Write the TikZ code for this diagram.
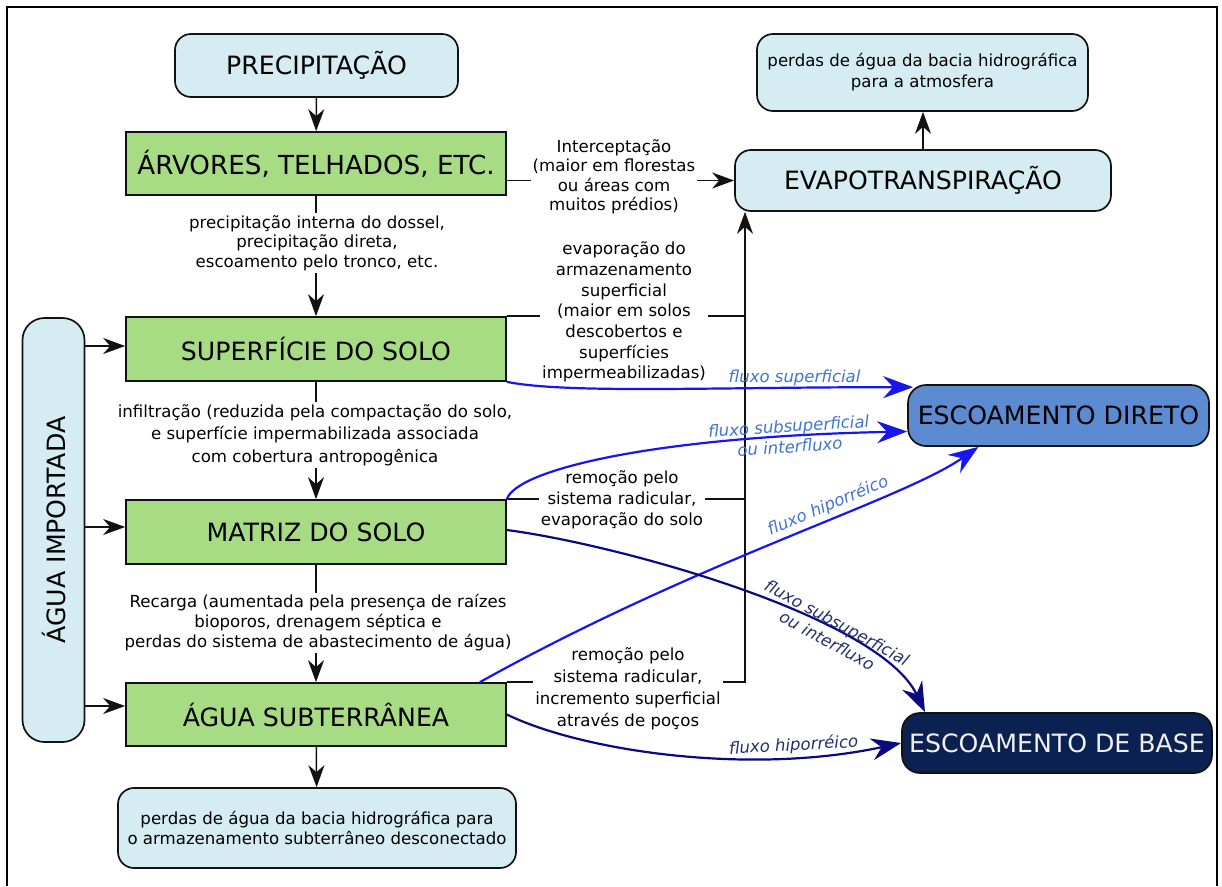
\documentclass[tikz,border=0pt]{standalone}
\usepackage{fontspec}
\setmainfont{DejaVu Sans}
\usetikzlibrary{arrows.meta}

\definecolor{leafgreen}{RGB}{168,220,132}
\definecolor{paleblue}{RGB}{213,236,243}
\definecolor{directblue}{RGB}{93,139,210}
\definecolor{basenavy}{RGB}{11,33,81}
\definecolor{flowblue}{RGB}{22,22,238}
\definecolor{flownavy}{RGB}{10,10,128}
\definecolor{labblue}{RGB}{63,116,214}
\definecolor{labnavy}{RGB}{35,48,110}
\definecolor{inkblack}{RGB}{18,18,18}

\newcommand\bigsize{\fontsize{25.2}{29}\selectfont}
\newcommand\notesize[1]{\fontsize{16.6}{#1}\selectfont}

\tikzset{
  boxline/.style={draw=inkblack, line width=1.7pt, text=black, inner sep=0pt, align=center},
  greenbox/.style={boxline, fill=leafgreen, minimum width=380pt, minimum height=63pt, font=\bigsize},
  bluebox/.style={boxline, fill=paleblue, rounded corners=16pt},
  note/.style={text=black, align=center, inner sep=2pt},
  notewhite/.style={note, fill=white},
  arr/.style={draw=inkblack, line width=1.5pt, -{Stealth[length=22pt,width=16pt,inset=7pt]}},
  plain/.style={draw=inkblack, line width=1.5pt},
  flowblue/.style={draw=flowblue, line width=2.2pt, -{Stealth[length=30pt,width=22pt,inset=10pt]}},
  flownavy/.style={draw=flownavy, line width=2.2pt, -{Stealth[length=30pt,width=22pt,inset=10pt]}},
  flowlab/.style={font=\fontsize{16.5}{20.5}\selectfont\itshape, align=center, inner sep=1pt},
}

\begin{document}
\begin{tikzpicture}[x=1pt, y=-1pt]
\useasboundingbox (0,0) rectangle (1222,886);
\fill[white] (0,0) rectangle (1222,886);

% outer frame
\draw[line width=2pt, draw=black] (7,886) -- (7,7) -- (1217,7) -- (1217,886);

% main column of stores
\node[bluebox, minimum width=283pt, minimum height=63pt, font=\bigsize] (precip) at (316.5,65.5) {PRECIPITAÇÃO};
\node[greenbox, font=\fontsize{26.2}{30}\selectfont] (arv) at (316,163.5) {ÁRVORES, TELHADOS, ETC.};
\node[greenbox, minimum height=64pt] (sup) at (316,349) {SUPERFÍCIE DO SOLO};
\node[greenbox, minimum height=64pt] (mat) at (316,532) {MATRIZ DO SOLO};
\node[greenbox] (sub) at (316,714.5) {ÁGUA SUBTERRÂNEA};
\node[bluebox, minimum width=398pt, minimum height=80pt, font=\notesize{20}] (perdasub) at (317,828)
  {perdas de água da bacia hidrográfica para\\o armazenamento subterrâneo desconectado};

% imported water
\node[bluebox, rounded corners=22pt, minimum width=62pt, minimum height=424pt, font=\bigsize] (imp) at (53.5,530)
  {\rotatebox{90}{ÁGUA IMPORTADA}};

% evapotranspiration branch
\node[bluebox, minimum width=331pt, minimum height=77pt, font=\notesize{21}] (perdatm) at (922.5,72.5)
  {perdas de água da bacia hidrográfica\\para a atmosfera};
\node[bluebox, minimum width=376pt, minimum height=61pt, font=\bigsize] (evapo) at (923,180.5) {EVAPOTRANSPIRAÇÃO};

% runoff outlets
\node[boxline, fill=directblue, rounded corners=18pt, minimum width=301pt, minimum height=61pt, font=\bigsize] (direto) at (1058.5,415.5) {ESCOAMENTO DIRETO};
\node[boxline, fill=basenavy, text=white!94!black, rounded corners=18pt, minimum width=310pt, minimum height=60pt, font=\bigsize] (base) at (1057,743) {ESCOAMENTO DE BASE};

% vertical chain
\draw[arr] (precip) -- (arv);
\draw[arr] (arv) -- (sup);
\draw[arr] (sup) -- (mat);
\draw[arr] (mat) -- (sub);
\draw[arr] (sub) -- (perdasub);
\draw[arr] (evapo.north) -- (evapo.north |- perdatm.south);

% imported water inputs
\draw[arr] (imp.east |- 0,346) -- (sup.west |- 0,346);
\draw[arr] (imp.east |- 0,527) -- (mat.west |- 0,527);
\draw[arr] (imp.east |- 0,706) -- (sub.west |- 0,706);

% interception
\draw[arr] (arv.east |- evapo.west) -- (evapo.west);

% collector of evaporative losses
\coordinate (colx) at (745,0);
\draw[plain] (sup.north east) -- (sup.north east -| colx);
\draw[plain] (mat.north east) -- (mat.north east -| colx);
\draw[arr] (sub.north east) -- (sub.north east -| colx) -- (colx |- evapo.south);

% descriptive notes
\node[notewhite, font=\notesize{19.5}] (n1) at (317,243)
  {precipitação interna do dossel,\\precipitação direta,\\escoamento pelo tronco, etc.};
\node[notewhite, font=\notesize{22.5}] (n2) at (315,435)
  {infiltração (reduzida pela compactação do solo,\\e superfície impermabilizada associada\\com cobertura antropogênica};
\node[notewhite, font=\notesize{20}] (n3) at (318,623)
  {Recarga (aumentada pela presença de raízes\\bioporos, drenagem séptica e\\perdas do sistema de abastecimento de água)};
\node[notewhite, font=\notesize{19.5}] (n4) at (614,177)
  {Interceptação\\(maior em florestas\\ou áreas com\\muitos prédios)};
\node[notewhite, font=\notesize{20.7}] (n5) at (624,312)
  {evaporação do\\armazenamento\\superficial\\(maior em solos\\descobertos e\\superfícies\\impermeabilizadas)};
\node[notewhite, font=\notesize{21}] (n6) at (622,500)
  {remoção pelo\\sistema radicular,\\evaporação do solo};
\node[notewhite, font=\notesize{22}] (n7) at (628,688.5)
  {remoção pelo\\sistema radicular,\\incremento superficial\\através de poços};

% flows to direct runoff
\draw[flowblue] (sup.south east) .. controls +(60,12) and +(-200,0) .. ([xshift=6pt,yshift=-3pt]direto.north west)
  node[flowlab, text=labblue, pos=0.79, above=0pt] {fluxo superficial};
\draw[flowblue] (mat.north east) .. controls +(10,-30) and +(-250,5) .. ([yshift=-16pt]direto.west)
  node[flowlab, text=labblue, pos=0.83, sloped] {fluxo subsuperficial\\ou interfluxo};
\draw[flowblue] ([xshift=-27pt]sub.north east) .. controls +(221,-123) and +(-78,54) .. ([xshift=-80pt]direto.south)
  node[flowlab, text=labblue, pos=0.6, sloped, above=2pt] {fluxo hiporréico};

% flows to base runoff
\draw[flownavy] ([yshift=2pt]mat.east) .. controls +(114,15) and +(-45,-95) .. ([xshift=-132pt]base.north)
  node[flowlab, text=labnavy, pos=0.69, sloped] {fluxo subsuperficial\\ou interfluxo};
\draw[flownavy] (sub.east) .. controls +(74,36) and +(-154,33) .. (base.west)
  node[flowlab, text=labnavy, pos=0.77, sloped, above=1pt] {fluxo hiporréico};
\end{tikzpicture}
\end{document}
